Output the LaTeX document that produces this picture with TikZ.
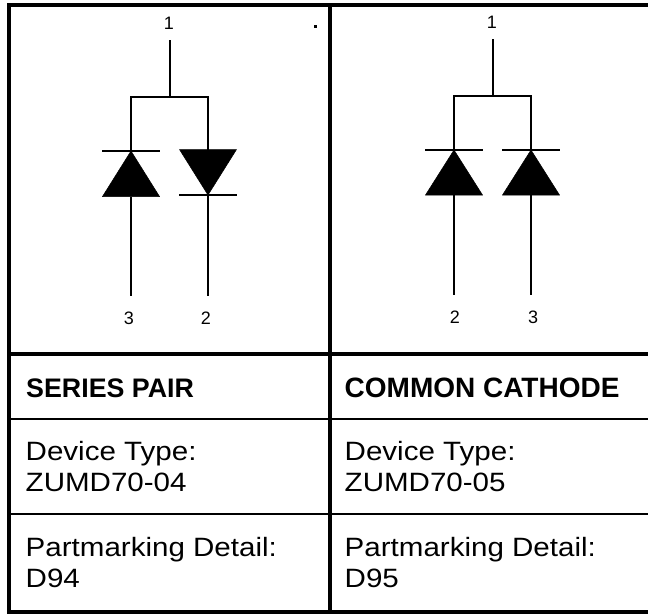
\documentclass[tikz,border=0pt]{standalone}
\usepackage{fontspec}
\setmainfont{Liberation Sans}
\newfontfamily\cellfont[FakeStretch=1.115]{Liberation Sans}
\tikzset{
  frameline/.style={line width=4.3pt,line cap=rect},
  rowline/.style={line width=1.6pt},
  wire/.style={line width=2pt},
  lead/.style={line width=2.8pt},
  pinlabel/.style={font=\fontsize{18}{18}\selectfont,inner sep=0pt},
  celltext/.style={font=\cellfont\fontsize{26.5}{31}\selectfont,anchor=base west,inner sep=0pt,align=left},
  headtext/.style={font=\fontsize{26.8}{30}\selectfont\bfseries,anchor=base west,inner sep=0pt},
  headwide/.style={font=\fontsize{28}{30}\selectfont\bfseries,anchor=base west,inner sep=0pt},
  diodefill/.style={fill=black,draw=black,line width=0.5pt}
}
\begin{document}
\begin{tikzpicture}[x=1pt,y=-1pt]
\useasboundingbox (0,0) rectangle (648,614);
\fill[white] (0,0) rectangle (648,614);
% table
\coordinate (tl) at (9,5); \coordinate (tr) at (648,5);
\coordinate (bl) at (9,612); \coordinate (br) at (648,612);
\coordinate (dt) at (330,5); \coordinate (db) at (330,612);
\coordinate (h1l) at (9,354); \coordinate (h1r) at (648,354);
\coordinate (h2l) at (9,419); \coordinate (h2r) at (648,419);
\coordinate (h3l) at (9,514); \coordinate (h3r) at (648,514);
\draw[frameline] (tr) -- (tl) -- (bl) -- (br);
\draw[frameline] (dt) -- (db);
\draw[frameline] (h1l) -- (h1r);
\draw[rowline] (h2l) -- (h2r);
\draw[rowline] (h3l) -- (h3r);
% left diagram
\node[pinlabel] (La1) at (169,23) {1};
\node[pinlabel] (La3) at (129,318) {3};
\node[pinlabel] (La2) at (206,318) {2};
\fill (313.5,24.5) rectangle (317,28);
\coordinate (Lt) at (170,40); \coordinate (Lj) at (170,97);
\coordinate (Lbl) at (131,97); \coordinate (Lbr) at (208,97);
\coordinate (Lca) at (131,151); \coordinate (Lab) at (131,197); \coordinate (Lel) at (131,296);
\coordinate (Lcb) at (208,150); \coordinate (Lap) at (208,195); \coordinate (Ler) at (208,296);
\draw[wire] (Lt) -- (Lj);
\draw[wire] (Lca) -- (Lbl) -- (Lbr) -- (Lcb);
\draw[rowline] (102,151) -- (160,151);
\fill[diodefill] (Lca) -- (102.5,196.5) -- (159.5,196.5) -- cycle;
\draw[lead] (Lab) -- (Lel);
\fill[diodefill] (179.5,149.5) -- (236.5,149.5) -- (Lap) -- cycle;
\draw[rowline] (179,195) -- (237,195);
\draw[lead] (Lap) -- (Ler);
% right diagram
\node[pinlabel] (Ra1) at (492,22) {1};
\node[pinlabel] (Ra2) at (455,317) {2};
\node[pinlabel] (Ra3) at (533,317) {3};
\coordinate (Rt) at (493,39); \coordinate (Rj) at (493,96);
\coordinate (Rbl) at (454,96); \coordinate (Rbr) at (531,96);
\coordinate (Rca) at (454,150); \coordinate (Rab) at (454,195); \coordinate (Rel) at (454,295);
\coordinate (Rcb) at (531,150); \coordinate (Rac) at (531,195); \coordinate (Rer) at (531,295);
\draw[wire] (Rt) -- (Rj);
\draw[wire] (Rca) -- (Rbl) -- (Rbr) -- (Rcb);
\draw[rowline] (425,150) -- (483,150);
\draw[rowline] (502,150) -- (560,150);
\fill[diodefill] (Rca) -- (425.5,195) -- (482.5,195) -- cycle;
\fill[diodefill] (Rcb) -- (502.5,195) -- (559.5,195) -- cycle;
\draw[lead] (Rab) -- (Rel);
\draw[lead] (Rac) -- (Rer);
% text
\node[headtext] (h1) at (26,397) {SERIES PAIR};
\node[headwide] (h2) at (344.5,397) {COMMON CATHODE};
\node[celltext] (d1) at (25.5,491.5) {Device Type:\\ZUMD70-04};
\node[celltext] (d2) at (344.5,491.5) {Device Type:\\ZUMD70-05};
\node[celltext] (p1) at (25.5,587) {Partmarking Detail:\\D94};
\node[celltext] (p2) at (344.5,587) {Partmarking Detail:\\D95};
\end{tikzpicture}
\end{document}
